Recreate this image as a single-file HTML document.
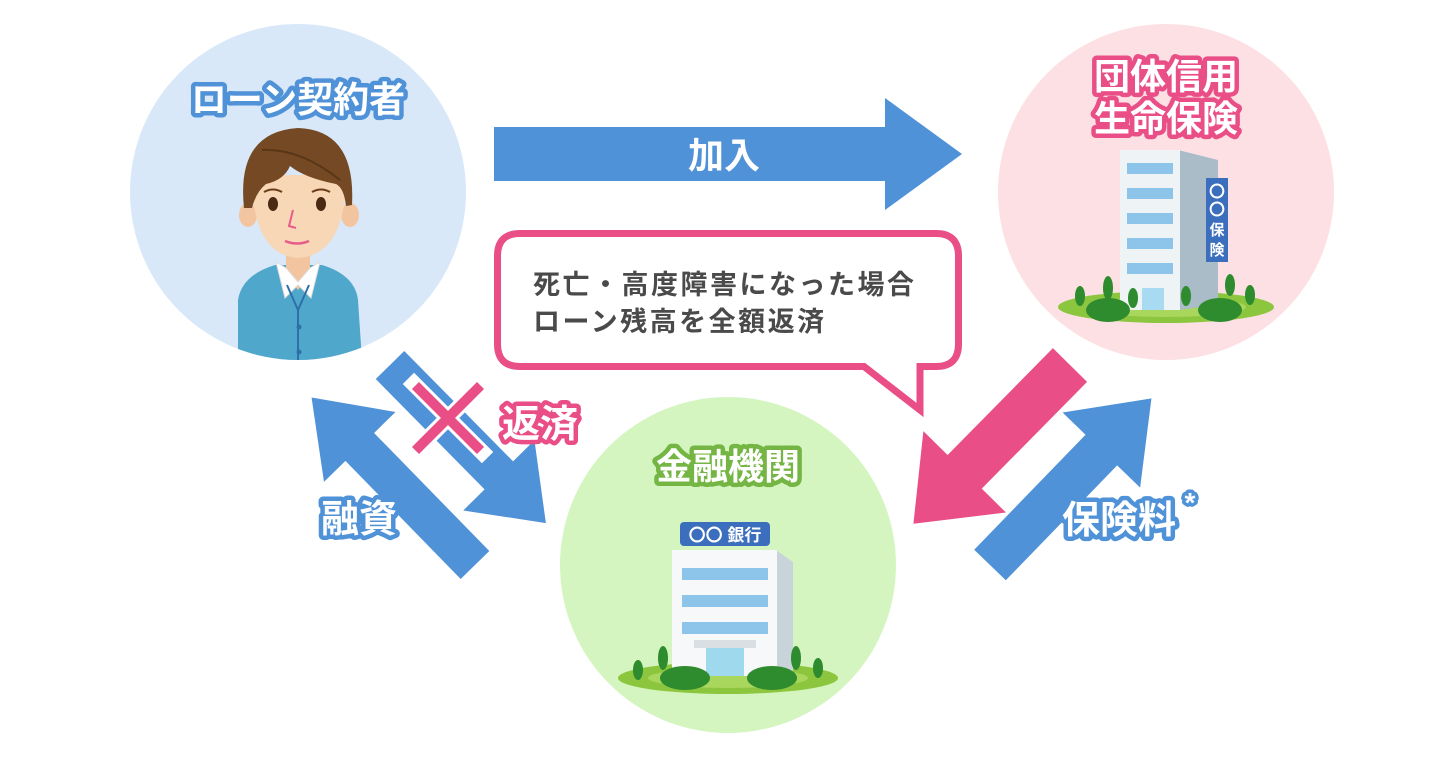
<!DOCTYPE html>
<html><head><meta charset="utf-8"><style>
html,body{margin:0;padding:0;background:#fff;}
svg{display:block;}
text{font-family:"Liberation Sans","Noto Sans CJK JP",sans-serif;font-weight:bold;}
.lbl{paint-order:stroke;stroke-linejoin:round;fill:#fff;}
</style></head><body>
<svg width="1456" height="760" viewBox="0 0 1456 760" xmlns="http://www.w3.org/2000/svg">
<defs>
<clipPath id="cl"><circle cx="298" cy="192" r="168"/></clipPath>
</defs>
<circle cx="298" cy="192" r="168" fill="#d8e8f9"/>
<circle cx="1166" cy="192" r="168" fill="#fde0e3"/>
<circle cx="728" cy="565" r="168" fill="#d4f5c0"/>

<g clip-path="url(#cl)">
<path d="M238 360 L238 300 Q242 275 275 265 L322 265 Q355 275 358 300 L362 360 Z" fill="#4fa8cc"/>
<path d="M286 255 L310 255 L310 275 L298 290 L286 275 Z" fill="#f3c4a0"/>
<path d="M276 262 L285 298 L298 285 L311 298 L320 262 L310 268 L298 282 L286 268 Z" fill="#fff" stroke="#ddd" stroke-width="1"/>
<path d="M287 285 L298 310 L309 285" stroke="#2f6fa8" stroke-width="2" fill="none"/>
<line x1="298" y1="310" x2="298" y2="360" stroke="#2f6fa8" stroke-width="2"/>
<circle cx="299" cy="327" r="2.5" fill="#2f6fa8"/><circle cx="299" cy="352" r="2.5" fill="#2f6fa8"/>
</g>
<ellipse cx="248" cy="215" rx="9" ry="12" fill="#f3c4a0"/>
<ellipse cx="350" cy="215" rx="9" ry="12" fill="#f3c4a0"/>
<path d="M252 175 Q252 255 298 258 Q346 255 346 175 Z" fill="#f8d7b6"/>
<path d="M244 208 Q236 132 298 128 Q356 130 352 205 L346 206 Q344 188 336 184 Q305 178 290 166 Q284 180 266 184 Q256 192 252 208 Z" fill="#744923"/>
<path d="M262 150 Q300 148 340 180" stroke="#5a3618" stroke-width="2" fill="none"/>
<ellipse cx="273" cy="204" rx="5" ry="7" fill="#4a2a12"/>
<ellipse cx="321" cy="204" rx="5" ry="7" fill="#4a2a12"/>
<path d="M264 192 Q273 187 282 192 M312 192 Q321 187 330 192" stroke="#6b3f1c" stroke-width="2" fill="none"/>
<path d="M293 210 L289 226 L296 228" stroke="#e85b8a" stroke-width="2" fill="none"/>
<path d="M285 241 Q297 246 309 241" stroke="#e85b8a" stroke-width="2.5" fill="none"/>

<text x="298" y="112" font-size="36" text-anchor="middle" class="lbl" stroke="#4f92d8" stroke-width="9">ローン契約者</text>
<text x="1166" y="89" font-size="36" text-anchor="middle" class="lbl" stroke="#e94f86" stroke-width="9">団体信用</text>
<text x="1166" y="131" font-size="36" text-anchor="middle" class="lbl" stroke="#e94f86" stroke-width="9">生命保険</text>
<text x="728" y="479" font-size="36" text-anchor="middle" class="lbl" stroke="#74b543" stroke-width="9">金融機関</text>

<ellipse cx="1166" cy="307" rx="108" ry="16" fill="#8cc63f"/>
<ellipse cx="1166" cy="307" rx="80" ry="10" fill="#a9d65c"/>
<polygon points="1178,150 1218,160 1218,305 1178,310" fill="#a9bcc8"/>
<rect x="1120" y="150" width="60" height="160" fill="#eef3f5"/>
<g fill="#8cc4ea">
<rect x="1127" y="163" width="46" height="11"/><rect x="1127" y="188" width="46" height="11"/><rect x="1127" y="213" width="46" height="11"/><rect x="1127" y="238" width="46" height="11"/><rect x="1127" y="263" width="46" height="11"/>
</g>
<rect x="1142" y="288" width="22" height="22" fill="#a8daf2"/>
<rect x="1206" y="178" width="22" height="84" fill="#3b6fbd"/>
<text x="1217" y="197" font-size="16" fill="#fff" text-anchor="middle">〇</text>
<text x="1217" y="215" font-size="16" fill="#fff" text-anchor="middle">〇</text>
<text x="1217" y="235" font-size="15" fill="#fff" text-anchor="middle">保</text>
<text x="1217" y="255" font-size="15" fill="#fff" text-anchor="middle">険</text>
<g fill="#2e8b2e"><ellipse cx="1108" cy="310" rx="22" ry="12"/><ellipse cx="1220" cy="310" rx="22" ry="12"/>
<ellipse cx="1080" cy="296" rx="5" ry="10"/><ellipse cx="1108" cy="288" rx="5" ry="12"/><ellipse cx="1133" cy="298" rx="5" ry="10"/><ellipse cx="1186" cy="296" rx="5" ry="10"/><ellipse cx="1230" cy="285" rx="5" ry="11"/><ellipse cx="1250" cy="295" rx="5" ry="10"/></g>

<ellipse cx="728" cy="678" rx="110" ry="16" fill="#8cc63f"/>
<ellipse cx="728" cy="678" rx="80" ry="10" fill="#a9d65c"/>
<polygon points="776,550 793,562 793,672 776,676" fill="#c9d3da"/>
<rect x="672" y="550" width="105" height="126" fill="#f6f8f9"/>
<g fill="#8cc4ea"><rect x="682" y="568" width="86" height="12"/><rect x="682" y="595" width="86" height="12"/><rect x="682" y="622" width="86" height="12"/></g>
<rect x="694" y="640" width="62" height="8" fill="#d9dfe3"/>
<rect x="706" y="648" width="38" height="28" fill="#9fd9ee"/>
<rect x="680" y="522" width="90" height="24" rx="4" fill="#3b6fbd"/>
<text x="725" y="541" font-size="17" fill="#fff" text-anchor="middle">〇〇 銀行</text>
<g fill="#2e8b2e"><ellipse cx="685" cy="678" rx="25" ry="12"/><ellipse cx="772" cy="678" rx="25" ry="12"/>
<ellipse cx="638" cy="670" rx="5" ry="10"/><ellipse cx="663" cy="658" rx="5" ry="12"/><ellipse cx="796" cy="658" rx="5" ry="12"/><ellipse cx="818" cy="668" rx="5" ry="10"/></g>

<polygon points="494,127 885,127 885,98 962,154 885,210 885,181 494,181" fill="#4f92d8"/>
<text x="724" y="168" font-size="36" fill="#fff" text-anchor="middle">加入</text>

<path d="M520 233.5 H936 Q958.5 233.5 958.5 256 V344 Q958.5 366.5 936 366.5 H920 V410 L864 366.5 H520 Q497.5 366.5 497.5 344 V256 Q497.5 233.5 520 233.5 Z" fill="#fff" stroke="#e94f86" stroke-width="7"/>
<text x="533" y="294" font-size="27" fill="#4a4a4a" letter-spacing="2.5">死亡・高度障害になった場合</text>
<text x="533" y="331" font-size="27" fill="#4a4a4a" letter-spacing="2.5">ローン残高を全額返済</text>

<g transform="translate(1070,365) rotate(134.6)"><polygon points="0,-24 150,-24 150,-58 223,0 150,58 150,24 0,24" fill="#e94f86"/></g>
<g transform="translate(990,565) rotate(-45.9)"><polygon points="0,-22 160,-22 160,-54 232,0 160,54 160,22 0,22" fill="#4f92d8"/></g>
<g transform="translate(475,565) rotate(-134.3)"><polygon points="0,-20 165,-20 165,-50 234,0 165,50 165,20 0,20" fill="#4f92d8"/></g>
<g transform="translate(390,365) rotate(45.4)"><polygon points="0,-20 155,-20 155,-50 222,0 155,50 155,20 0,20" fill="#4f92d8"/></g>

<g transform="translate(448,418) rotate(45)" stroke="#fff" stroke-width="16" stroke-linecap="square"><line x1="-48" y1="0" x2="48" y2="0"/><line x1="0" y1="-48" x2="0" y2="48"/></g>
<g transform="translate(448,418) rotate(45)" stroke="#e94f86" stroke-width="10"><line x1="-46" y1="0" x2="46" y2="0"/><line x1="0" y1="-46" x2="0" y2="46"/></g>

<text x="540" y="437" font-size="38" text-anchor="middle" class="lbl" stroke="#e94f86" stroke-width="9">返済</text>
<text x="359" y="532" font-size="38" text-anchor="middle" class="lbl" stroke="#4f92d8" stroke-width="9">融資</text>
<text x="1119" y="533" font-size="38" text-anchor="middle" class="lbl" stroke="#4f92d8" stroke-width="9">保険料</text>
<text x="1190" y="512" font-size="28" text-anchor="middle" class="lbl" stroke="#4f92d8" stroke-width="7">*</text>
</svg>
</body></html>
